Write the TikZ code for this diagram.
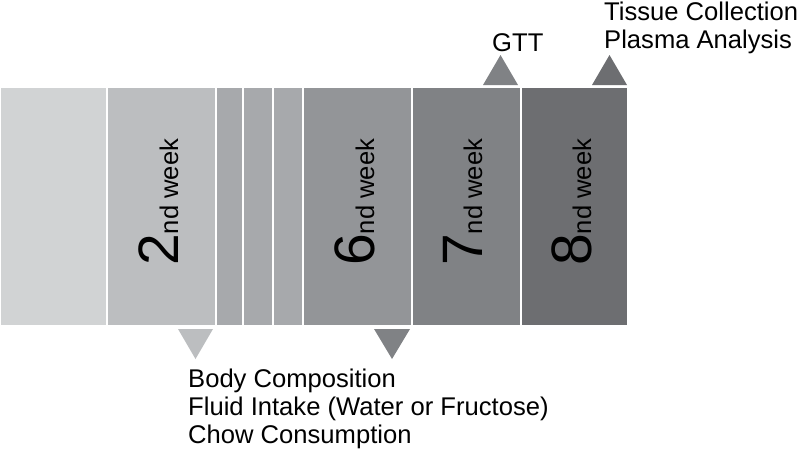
\documentclass[tikz,border=0pt]{standalone}
\usepackage{fontspec}
\setmainfont{Liberation Sans}
\usepackage{tikz}
\usetikzlibrary{positioning}

\definecolor{gA}{HTML}{D1D3D4}
\definecolor{gB}{HTML}{BCBEC0}
\definecolor{gC}{HTML}{A7A9AC}
\definecolor{gD}{HTML}{939598}
\definecolor{gE}{HTML}{808285}
\definecolor{gF}{HTML}{6D6E71}

\tikzset{
  wk/.style={rectangle, inner sep=0pt, minimum height=239pt, draw=white, line width=2pt},
  wklabel/.style={rotate=90, anchor=base west, inner sep=0pt},
  note/.style={anchor=base west, inner sep=0pt, font=\fontsize{25.6}{29}\selectfont},
}
\newcommand{\weeklbl}[1]{{\fontsize{57}{57}\selectfont #1}{\fontsize{25.6}{29}\selectfont nd week}}

\begin{document}
\begin{tikzpicture}[x=1pt, y=-1pt]
  \useasboundingbox (0,0) rectangle (800,453);

  % Blocos das semanas
  \node[wk, fill=gA, minimum width=107pt]   (w1) at (53.5,206.5) {};
  \node[wk, fill=gB, minimum width=109pt]   (w2) at (161.5,206.5) {};
  \node[wk, fill=gC, minimum width=26.5pt]  (w3) at (229.25,206.5) {};
  \node[wk, fill=gC, minimum width=30.5pt]  (w4) at (257.75,206.5) {};
  \node[wk, fill=gC, minimum width=30pt]    (w5) at (288,206.5) {};
  \node[wk, fill=gD, minimum width=108.5pt] (w6) at (357.25,206.5) {};
  \node[wk, fill=gE, minimum width=109pt]   (w7) at (466,206.5) {};
  \node[wk, fill=gF, minimum width=107.5pt] (w8) at (574.25,206.5) {};

  % Rotulos verticais
  \node[wklabel] (l2) at (178,266) {\weeklbl{2}};
  \node[wklabel] (l6) at (374,266) {\weeklbl{6}};
  \node[wklabel] (l7) at (482,266) {\weeklbl{7}};
  \node[wklabel] (l8) at (591,266) {\weeklbl{8}};

  % Triangulos (marcadores)
  \fill[gE] (483,85) -- (518,85) -- (500.5,55) -- cycle;
  \fill[gF] (592,85) -- (627,85) -- (609.5,55) -- cycle;
  \fill[gB] (178,329) -- (213,329) -- (195.5,359) -- cycle;
  \fill[gE] (374,329) -- (410,329) -- (392,359) -- cycle;

  % Textos
  \node[note] (gtt) at (492,51) {GTT};
  \node[note] (tissue) at (604,20) {Tissue Collection};
  \node[note] (plasma) at (604,48) {Plasma Analysis};
  \node[note] (body) at (188,387) {Body Composition};
  \node[note] (fluid) at (188,415) {Fluid Intake (Water or Fructose)};
  \node[note] (chow) at (188,443) {Chow Consumption};
\end{tikzpicture}
\end{document}
